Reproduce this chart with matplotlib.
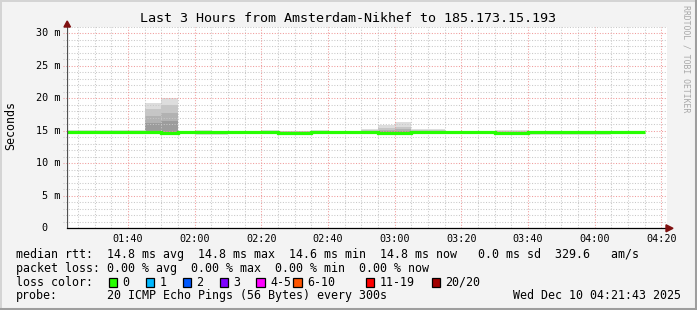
import numpy as np
import matplotlib
matplotlib.use("Agg")
import matplotlib.pyplot as plt
from matplotlib.patches import Rectangle, Polygon
from matplotlib.lines import Line2D

# ---------------- data ----------------
title = "Last 3 Hours from Amsterdam-Nikhef to 185.173.15.193"
y_label = "Seconds"
watermark = "RRDTOOL / TOBI OETIKER"

# 5-minute steps (start times)
step_starts = ["01:20", "01:25", "01:30", "01:35", "01:40", "01:45", "01:50",
               "01:55", "02:00", "02:05", "02:10", "02:15", "02:20", "02:25",
               "02:30", "02:35", "02:40", "02:45", "02:50", "02:55", "03:00",
               "03:05", "03:10", "03:15", "03:20", "03:25", "03:30", "03:35",
               "03:40", "03:45", "03:50", "03:55", "04:00", "04:05", "04:10"]
step_minutes = 5

# median RTT in ms
median = [14.8, 14.8, 14.8, 14.8, 14.8, 14.8, 14.65, 14.8, 14.8, 14.8,
          14.8, 14.8, 14.8, 14.7, 14.7, 14.8, 14.8, 14.8, 14.8, 14.7,
          14.7, 14.8, 14.8, 14.8, 14.8, 14.8, 14.7, 14.7, 14.8, 14.8,
          14.8, 14.8, 14.8, 14.85, 14.85]

# smoke bands (ms): outer (min..max) to inner
band1_lo = [14.55, 14.55, 14.55, 14.55, 14.55, 14.55, 14.45, 14.55, 14.35, 14.4,
            14.55, 14.55, 14.55, 14.5, 14.5, 14.45, 14.55, 14.55, 14.55, 14.5,
            14.5, 14.45, 14.55, 14.55, 14.55, 14.55, 14.5, 14.5, 14.4, 14.4,
            14.4, 14.4, 14.4, 14.6, 14.6]
band1_hi = [15.05, 15.05, 15.05, 15.05, 15.05, 19.3, 20.0, 15.0, 15.1, 15.0,
            15.0, 15.0, 15.1, 15.0, 15.0, 15.1, 15.0, 15.0, 15.2, 15.9,
            16.3, 15.3, 15.2, 15.0, 15.0, 15.0, 15.1, 15.1, 15.0, 15.0,
            15.0, 15.0, 15.0, 15.0, 15.0]
band2_lo = [14.6, 14.6, 14.6, 14.6, 14.6, 14.6, 14.5, 14.6, 14.45, 14.5,
            14.6, 14.6, 14.6, 14.55, 14.55, 14.5, 14.6, 14.6, 14.6, 14.55,
            14.55, 14.5, 14.6, 14.6, 14.6, 14.6, 14.55, 14.55, 14.5, 14.5,
            14.5, 14.5, 14.5, 14.65, 14.65]
band2_hi = [14.95, 14.95, 14.95, 14.95, 14.95, 18.3, 18.9, 14.95, 15.0, 14.95,
            14.95, 14.95, 15.0, 14.95, 14.95, 15.0, 14.95, 14.95, 15.05, 15.4,
            15.6, 15.1, 15.05, 14.95, 14.95, 14.95, 15.0, 15.0, 14.95, 14.95,
            14.95, 14.95, 14.95, 14.95, 14.95]
band3_lo = [14.65, 14.65, 14.65, 14.65, 14.65, 14.7, 14.5, 14.65, 14.6, 14.6,
            14.65, 14.65, 14.65, 14.6, 14.6, 14.5, 14.65, 14.65, 14.65, 14.6,
            14.6, 14.5, 14.65, 14.65, 14.65, 14.65, 14.6, 14.6, 14.6, 14.6,
            14.6, 14.6, 14.6, 14.7, 14.7]
band3_hi = [14.9, 14.9, 14.9, 14.9, 14.9, 17.3, 17.8, 14.9, 14.9, 14.9,
            14.9, 14.9, 14.9, 14.85, 14.85, 14.9, 14.9, 14.9, 14.95, 15.1,
            15.2, 15.0, 14.95, 14.9, 14.9, 14.9, 14.85, 14.85, 14.9, 14.9,
            14.9, 14.9, 14.9, 14.9, 14.9]
band4_lo = [14.75, 14.75, 14.75, 14.75, 14.75, 14.75, 14.5, 14.75, 14.7, 14.7,
            14.75, 14.75, 14.75, 14.65, 14.65, 14.5, 14.75, 14.75, 14.75, 14.65,
            14.65, 14.5, 14.75, 14.75, 14.75, 14.75, 14.65, 14.65, 14.7, 14.7,
            14.7, 14.7, 14.7, 14.8, 14.8]
band4_hi = [14.85, 14.85, 14.85, 14.85, 14.85, 16.2, 16.5, 14.85, 14.85, 14.85,
            14.85, 14.85, 14.85, 14.75, 14.75, 14.85, 14.85, 14.85, 14.85, 14.95,
            15.0, 14.9, 14.85, 14.85, 14.85, 14.85, 14.75, 14.75, 14.85, 14.85,
            14.85, 14.85, 14.85, 14.9, 14.9]

y_ticks = [0, 5, 10, 15, 20, 25, 30]
y_tick_labels = ["0  ", "5 m", "10 m", "15 m", "20 m", "25 m", "30 m"]
x_tick_labels = ["01:40", "02:00", "02:20", "02:40", "03:00", "03:20", "03:40", "04:00", "04:20"]

legend_lines = [
    "median rtt:  14.8 ms avg  14.8 ms max  14.6 ms min  14.8 ms now   0.0 ms sd  329.6   am/s",
    "packet loss: 0.00 % avg  0.00 % max  0.00 % min  0.00 % now",
]
loss_labels = ["0", "1", "2", "3", "4-5", "6-10", "11-19", "20/20"]
loss_colors = ["#26ff00", "#00b8ff", "#0059ff", "#7e00ff", "#ff00ff", "#ff5500", "#ff0000", "#a10000"]
probe_text = "20 ICMP Echo Pings (56 Bytes) every 300s"
date_text = "Wed Dec 10 04:21:43 2025"

# time window (minutes since midnight)
t_end = 4 * 60 + 21 + 43 / 60
t_start = t_end - 180

# ---------------- figure ----------------
W, H = 697, 310
DPI = 100
MONO = "DejaVu Sans Mono"
plt.rcParams["font.family"] = MONO

def fx(px):
    return px / W

def fy(py):
    return 1 - py / H

fig = plt.figure(figsize=(W / DPI, H / DPI), dpi=DPI, facecolor="#f3f3f3")

# frame border
fig.add_artist(Line2D([0, 1], [fy(0.5), fy(0.5)], color="#d4d4d4", lw=1.4, transform=fig.transFigure))
fig.add_artist(Line2D([fx(0.5), fx(0.5)], [0, 1], color="#d4d4d4", lw=1.4, transform=fig.transFigure))
fig.add_artist(Line2D([0, 1], [fy(H - 1.5), fy(H - 1.5)], color="#9e9e9e", lw=2.2, transform=fig.transFigure))
fig.add_artist(Line2D([fx(W - 1.5), fx(W - 1.5)], [0, 1], color="#9e9e9e", lw=2.2, transform=fig.transFigure))

x0, x1 = 67, 667
y_bot, y_top = 228, 27
ax = fig.add_axes([fx(x0), fy(y_bot), (x1 - x0) / W, (y_bot - y_top) / H])
ax.set_facecolor("white")
ax.set_xlim(t_start, t_end)
ax.set_ylim(0, 31.0)
for s in ax.spines.values():
    s.set_visible(False)
ax.set_xticks([])
ax.set_yticks([])

def hm(s):
    h, m = s.split(":")
    return int(h) * 60 + int(m)

starts = np.array([hm(s) for s in step_starts], dtype=float)
edges = np.append(starts, starts[-1] + step_minutes)

# smoke
band_colors = ["#dddddd", "#c6c6c6", "#b2b2b2", "#9c9c9c"]
bands = [(band1_lo, band1_hi), (band2_lo, band2_hi), (band3_lo, band3_hi), (band4_lo, band4_hi)]
for (lo, hi), c in zip(bands, band_colors):
    ax.stairs(hi, edges, baseline=lo, fill=True, color=c, lw=0, zorder=2)

# grid
minor_t = [t for t in range(85, 265, 5) if t % 20 != 0]
major_t = [t for t in range(100, 265, 20)]
minor_y = [v for v in range(1, 32) if v % 5 != 0]
major_y = [5, 10, 15, 20, 25, 30]
gls = (0, (1, 1.6))
ax.vlines(minor_t, 0, 31, colors="#c8c8c8", lw=0.75, linestyles=[gls], zorder=3)
ax.hlines(minor_y, t_start - 1.2, t_end, colors="#c8c8c8", lw=0.75, linestyles=[gls], zorder=3, clip_on=False)
ax.vlines(major_t, 0, 31, colors="#f09a9a", lw=0.75, linestyles=[gls], zorder=3)
ax.hlines(major_y, t_start - 1.2, t_end, colors="#f09a9a", lw=0.75, linestyles=[gls], zorder=3, clip_on=False)

# median line
ax.stairs(median, edges, baseline=None, color=loss_colors[0], lw=2.3, zorder=4)

# axes lines
ax.axvline(t_start, color="#505050", lw=0.9, zorder=5)
ax.axhline(0, color="#000000", lw=0.9, zorder=5, clip_on=False)

# arrows
fig.add_artist(Polygon([[fx(64), fy(27)], [fx(70.5), fy(27)], [fx(67.2), fy(21)]],
                       closed=True, color="#7f1010", transform=fig.transFigure))
fig.add_artist(Polygon([[fx(666), fy(224.8)], [fx(666), fy(231.8)], [fx(673), fy(228.3)]],
                       closed=True, color="#7f1010", transform=fig.transFigure))

# tick labels
for v, lab in zip(y_ticks, y_tick_labels):
    ax.text(fx(60), v, lab, transform=matplotlib.transforms.blended_transform_factory(fig.transFigure, ax.transData),
            ha="right", va="center", fontsize=7.3, color="#000000", family=MONO)
for i, lab in enumerate(x_tick_labels):
    ax.text(100 + 20 * i, fy(238.5), lab,
            transform=matplotlib.transforms.blended_transform_factory(ax.transData, fig.transFigure),
            ha="center", va="center", fontsize=7.3, color="#000000", family=MONO)

# title / labels
fig.text(fx(348), fy(18.5), title, ha="center", va="center", fontsize=9.6, family=MONO, color="#000000")
fig.text(fx(10.5), fy(126), y_label, ha="center", va="center", rotation=90, fontsize=8.4, family=MONO)
fig.text(fx(686), fy(59), watermark, ha="center", va="center", rotation=-90, fontsize=5.9,
         family=MONO, color="#a8a8a8")

# legend
LX = 16
LFS = 8.4
fig.text(fx(LX), fy(254.3), legend_lines[0], ha="left", va="center", fontsize=LFS, family=MONO)
fig.text(fx(LX), fy(268.3), legend_lines[1], ha="left", va="center", fontsize=LFS, family=MONO)
fig.text(fx(LX), fy(282.3), "loss color:", ha="left", va="center", fontsize=LFS, family=MONO)
box_x = [108.5, 145.5, 182.5, 219.5, 256, 293, 365.5, 431.5]
for bx, lab, col in zip(box_x, loss_labels, loss_colors):
    fig.add_artist(Rectangle((fx(bx), fy(286.8)), 8.6 / W, 8.6 / H, facecolor=col,
                             edgecolor="#000000", lw=0.9, transform=fig.transFigure))
    fig.text(fx(bx + 14), fy(282.3), lab, ha="left", va="center", fontsize=LFS, family=MONO)
fig.text(fx(LX), fy(295.8), "probe:", ha="left", va="center", fontsize=LFS, family=MONO)
fig.text(fx(107.4), fy(295.8), probe_text, ha="left", va="center", fontsize=LFS, family=MONO)
fig.text(fx(681), fy(295.8), date_text, ha="right", va="center", fontsize=LFS, family=MONO)

fig.savefig("out.png", dpi=DPI, facecolor=fig.get_facecolor())
